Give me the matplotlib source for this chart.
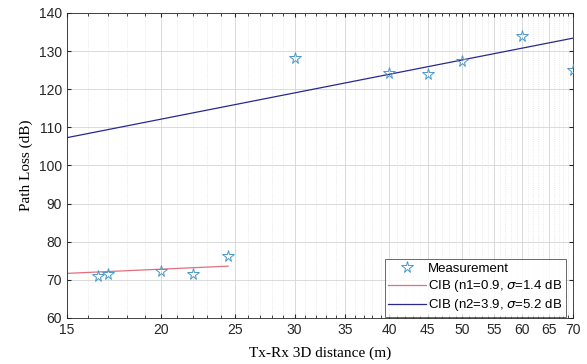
import numpy as np
import matplotlib
matplotlib.use("Agg")
import matplotlib.pyplot as plt
from matplotlib.ticker import FixedLocator, NullFormatter

# measured path loss
dist = [16.5, 17.0, 20.0, 22.0, 24.5, 30.0, 40.0, 45.0, 50.0, 60.0, 70.0]
pl = [71.1, 71.6, 72.4, 71.5, 76.3, 128.1, 124.3, 123.9, 127.5, 133.9, 125.0]

# CIB fits (end points, straight on log axis)
fit1_x = [15, 24.5]
fit1_y = [71.7, 73.6]
fit2_x = [15, 70]
fit2_y = [107.3, 133.4]

xticks = [15, 20, 25, 30, 35, 40, 45, 50, 55, 60, 65, 70]
yticks = [60, 70, 80, 90, 100, 110, 120, 130, 140]

fig = plt.figure(figsize=(5.87, 3.64), dpi=100)
ax = fig.add_axes([0.1141, 0.1264, 0.8619, 0.8379])

ax.plot(dist, pl, linestyle='none', marker='*', markersize=8.5, markerfacecolor='none',
        markeredgecolor='#4a98c8', markeredgewidth=0.7, label='Measurement', zorder=3)
ax.plot(fit1_x, fit1_y, color='#e07080', lw=0.9, label=r'CIB (n1=0.9, $\sigma$=1.4 dB')
ax.plot(fit2_x, fit2_y, color='#28288f', lw=0.9, label=r'CIB (n2=3.9, $\sigma$=5.2 dB')

ax.set_xscale('log')
ax.set_xlim(15, 70)
ax.set_ylim(60, 140)
ax.xaxis.set_major_locator(FixedLocator(xticks))
ax.xaxis.set_minor_locator(FixedLocator(list(range(15, 71))))
ax.xaxis.set_minor_formatter(NullFormatter())
ax.set_xticklabels([str(t) for t in xticks])
ax.set_yticks(yticks)

ax.grid(True, which='major', color='#d4d4d4', lw=0.6)
ax.grid(True, which='minor', axis='x', color='#dcdcdc', lw=0.5, linestyle=':')
ax.set_axisbelow(True)

ax.tick_params(which='both', direction='in', top=True, right=True, labelsize=10,
               colors='#262626', length=3)
ax.tick_params(which='minor', length=2)
for s in ax.spines.values():
    s.set_color('#262626')
    s.set_linewidth(0.6)

lab_font = {'family': 'Liberation Serif', 'size': 11}
ax.set_xlabel('Tx-Rx 3D distance (m)', fontdict=lab_font, labelpad=7)
ax.set_ylabel('Path Loss (dB)', fontdict=lab_font, labelpad=4)
for t in ax.get_xticklabels() + ax.get_yticklabels():
    t.set_family('Liberation Sans')

leg = ax.legend(loc='lower right', bbox_to_anchor=(0.986, 0.004), borderaxespad=0,
                frameon=True, fancybox=False, edgecolor='#262626', handlelength=2.9,
                labelspacing=0.25, handletextpad=0.15, borderpad=0.25,
                prop={'family': 'Liberation Sans', 'size': 9.5})
leg.get_frame().set_linewidth(0.6)

fig.savefig('out.png', dpi=100)
